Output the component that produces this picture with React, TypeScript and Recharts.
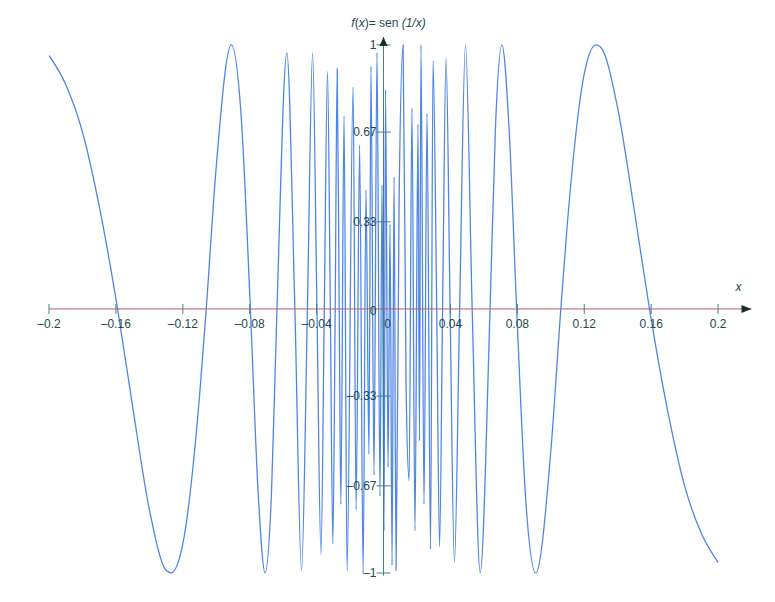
import { Line, LineChart, ReferenceDot, ReferenceLine, XAxis, YAxis } from 'recharts'

// values: extrema, zero crossings and the aliased spikes near 0
const leftX = [
  -0.2, -0.19, -0.18, -0.17, -0.159, -0.15, -0.14, -0.13, -0.127, -0.12, -0.11, -0.106, -0.1, -0.091,
  -0.085, -0.0796, -0.075, -0.0708, -0.067, -0.0637, -0.0578, -0.053, -0.049, -0.0455, -0.0424,
  -0.0398, -0.0374, -0.0354, -0.0335, -0.0318, -0.0303, -0.0289, -0.0277, -0.0265, -0.0255, -0.0236,
  -0.0218,
]
const leftY = [
  0.96, 0.85, 0.67, 0.39, 0, -0.37, -0.76, -0.99, -1, -0.89, -0.33, 0, 0.54, 1, 0.72, 0, -0.69, -1,
  -0.7, 0, 0.97, 0, -0.99, 0, 0.97, 0, -0.93, 0, 0.9, 0, -0.89, 0, 0.91, 0, -0.74, 0.73, -0.99,
]

const centerX = [
  -0.0182, -0.0164, -0.0143, -0.0122, -0.0105, -0.0087, -0.0075, -0.0057, -0.0039, -0.0021, -0.0009,
  0.0003, 0.0012, 0.0027, 0.0039, 0.0051, 0.0063, 0.0075, 0.0093, 0.0117, 0.0135, 0.0153, 0.017,
  0.0188, 0.0206, 0.0215, 0.0224, 0.0242, 0.026, 0.0281, 0.0296,
]
const centerY = [
  0.84, -0.76, 0.62, -1, 0.45, -0.55, 0.92, -0.63, 0.97, -0.71, 0.47, -0.84, 0.83, -0.6, 0.32, -0.97,
  0.5, -0.99, 0.4, 1, -0.3, -0.65, 0.76, -0.84, 0.7, -0.5, 1, -0.74, 0.74, -0.91, 0.94,
]

const rightX = [
  0.0318, 0.0335, 0.0353, 0.0374, 0.0398, 0.0424, 0.0455, 0.049, 0.053, 0.0578, 0.0637, 0.067, 0.0708,
  0.075, 0.0796, 0.085, 0.091, 0.1, 0.106, 0.11, 0.12, 0.127, 0.13, 0.14, 0.15, 0.159, 0.17, 0.18,
  0.19, 0.2,
]
const rightY = [
  0, -0.9, 0, 0.95, 0, -0.96, 0, 1, 0, -1, 0, 0.7, 1, 0.69, 0, -0.72, -1, -0.54, 0, 0.33, 0.89, 1,
  0.99, 0.76, 0.37, 0, -0.39, -0.67, -0.85, -0.96,
]

const xTicks = [-0.2, -0.16, -0.12, -0.08, -0.04, 0, 0.04, 0.08, 0.12, 0.16, 0.2]
const yTicks = [1, 0.67, 0.33, 0, -0.33, -0.67, -1]

const data = [
  ...leftX.map((x, i) => ({ x, y: leftY[i] })),
  ...centerX.map((x, i) => ({ x, y: centerY[i] })),
  ...rightX.map((x, i) => ({ x, y: rightY[i] })),
]

const xAxisColor = '#b0606e'
const yAxisColor = '#3f8282'
const textColor = '#1b4b4b'
const font = '"Liberation Sans", Arial, sans-serif'

const fmt = (v: number) => (v < 0 ? '\u2013' + String(Math.abs(v)) : String(v))

export default function App() {
  return (
    <div style={{ position: 'absolute', left: 0, top: 0, width: 775, height: 602, background: '#fff' }}>
      <LineChart
        width={775}
        height={602}
        data={data}
        margin={{ top: 37, right: 23.5, left: 49, bottom: 26.4 }}
        style={{ fontFamily: font }}
      >
        <XAxis type="number" dataKey="x" domain={[-0.2, 0.22]} allowDataOverflow hide />
        <YAxis type="number" domain={[-1.01, 1.03]} allowDataOverflow hide />
        <Line
          type="monotone"
          dataKey="y"
          stroke="#4f86e6"
          strokeWidth={1.3}
          dot={false}
          isAnimationActive={false}
        />
        <ReferenceLine y={0} stroke={xAxisColor} strokeWidth={1} />
        <ReferenceLine x={0} stroke={yAxisColor} strokeWidth={1} />
        {xTicks.map((t) => (
          <ReferenceDot
            key={'x' + t}
            x={t}
            y={0}
            shape={(p: any) => (
              <g>
                {t !== 0 && <line x1={p.cx} x2={p.cx} y1={p.cy - 5} y2={p.cy + 5} stroke={yAxisColor} />}
                <text
                  x={t === 0 ? p.cx + 4 : p.cx}
                  y={p.cy + 19}
                  textAnchor="middle"
                  fontSize={12}
                  fill={textColor}
                  fontFamily={font}
                >
                  {fmt(t)}
                </text>
              </g>
            )}
          />
        ))}
        {yTicks.map((t) => (
          <ReferenceDot
            key={'y' + t}
            x={0}
            y={t}
            shape={(p: any) => (
              <g>
                {t !== 0 && <line x1={p.cx - 7} x2={p.cx + 7} y1={p.cy} y2={p.cy} stroke={yAxisColor} />}
                <text
                  x={p.cx - 7}
                  y={t === 0 ? p.cy + 6 : p.cy + 4}
                  textAnchor="end"
                  fontSize={12}
                  fill={textColor}
                  fontFamily={font}
                >
                  {fmt(t)}
                </text>
              </g>
            )}
          />
        ))}
        <ReferenceDot
          x={0}
          y={1.03}
          shape={(p: any) => (
            <g>
              <path d={`M${p.cx},${p.cy} L${p.cx - 4},${p.cy + 9} L${p.cx + 4},${p.cy + 9} Z`} fill="#1b2b2b" />
              <text x={p.cx + 5} y={p.cy - 10} textAnchor="middle" fontSize={12} fill={textColor} fontFamily={font}>
                <tspan fontStyle="italic">f</tspan>(<tspan fontStyle="italic">x</tspan>)= sen{' '}
                <tspan fontStyle="italic">(1/x)</tspan>
              </text>
            </g>
          )}
        />
        <ReferenceDot
          x={0.22}
          y={0}
          shape={(p: any) => (
            <g>
              <path d={`M${p.cx},${p.cy} L${p.cx - 10},${p.cy - 4} L${p.cx - 10},${p.cy + 4} Z`} fill="#1b2b2b" />
              <text x={p.cx - 13} y={p.cy - 18} textAnchor="middle" fontSize={12} fontStyle="italic" fill={textColor} fontFamily={font}>
                x
              </text>
            </g>
          )}
        />
      </LineChart>
    </div>
  )
}
